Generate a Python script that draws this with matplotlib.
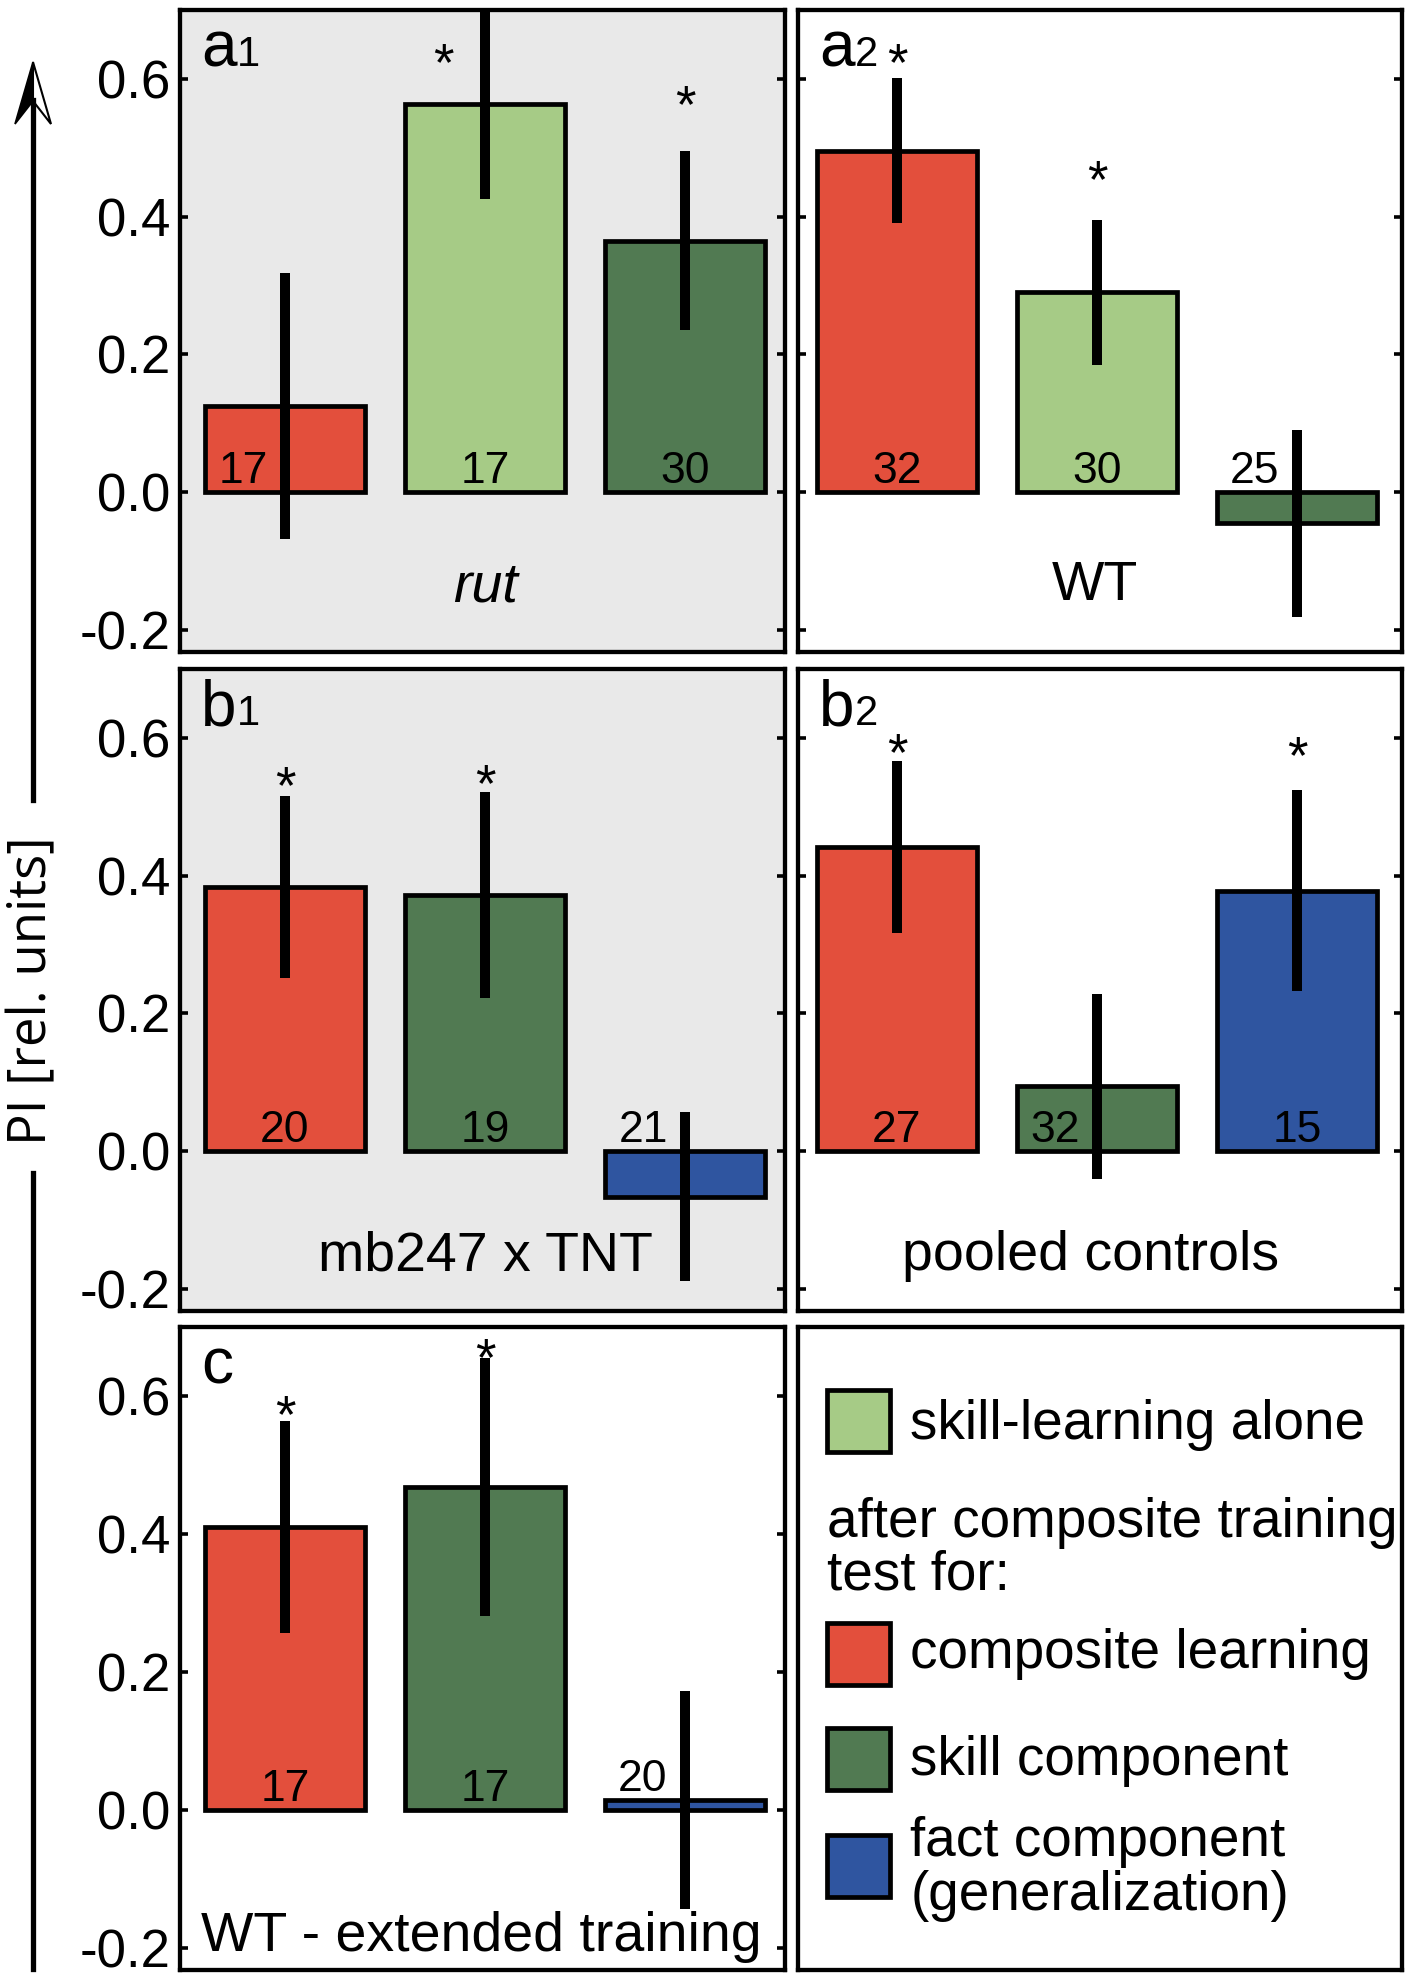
import matplotlib
matplotlib.use('Agg')
import matplotlib.pyplot as plt
from matplotlib.patches import Rectangle, Polygon
from matplotlib.lines import Line2D

plt.rcParams['font.family'] = ['Liberation Sans', 'DejaVu Sans']

# ---------------- data ----------------
series_names = ['skill-learning alone', 'composite learning', 'skill component',
                'fact component']
series_colors = ['#A6CB86', '#E34F3C', '#517A52', '#2F55A0']

panel_ids = ['a1', 'a2', 'b1', 'b2', 'c']
panel_titles = ['rut', 'WT', 'mb247 x TNT', 'pooled controls', 'WT - extended training']

a1_series = ['composite learning', 'skill-learning alone', 'skill component']
a1_values = [0.125, 0.563, 0.365]
a1_errors = [0.193, 0.137, 0.130]
a1_n = [17, 17, 30]
a1_stars = [None, 0.642, 0.582]

a2_series = ['composite learning', 'skill-learning alone', 'skill component']
a2_values = [0.496, 0.290, -0.045]
a2_errors = [0.105, 0.105, 0.136]
a2_n = [32, 30, 25]
a2_stars = [0.642, 0.473, None]

b1_series = ['composite learning', 'skill component', 'fact component']
b1_values = [0.383, 0.372, -0.066]
b1_errors = [0.132, 0.150, 0.123]
b1_n = [20, 19, 21]
b1_stars = [0.550, 0.552, None]

b2_series = ['composite learning', 'skill component', 'fact component']
b2_values = [0.442, 0.094, 0.378]
b2_errors = [0.125, 0.134, 0.146]
b2_n = [27, 32, 15]
b2_stars = [0.597, None, 0.594]

c_series = ['composite learning', 'skill component', 'fact component']
c_values = [0.410, 0.468, 0.015]
c_errors = [0.154, 0.187, 0.158]
c_n = [17, 17, 20]
c_stars = [0.592, 0.675, None]

yticks = [-0.2, 0.0, 0.2, 0.4, 0.6]
ytick_labels = ['-0.2', '0.0', '0.2', '0.4', '0.6']
ylabel = 'PI [rel. units]'

legend_labels = ['skill-learning alone', 'composite learning', 'skill component',
                 'fact component\n(generalization)']
legend_header = 'after composite training\ntest for:'

# ---------------- layout ----------------
W, H = 1405, 1975
fig = plt.figure(figsize=(W / 100, H / 100), dpi=100)

def fx(px):
    return px / W

def fy(py):
    return 1 - py / H

col_x = [(180, 785), (798, 1402)]
row_y = [(10, 652), (669, 1311), (1327, 1970)]
bg = {'a1': '#E9E9E9', 'b1': '#E9E9E9'}
xlims = [(-0.525, 2.5), (-0.495, 2.525)]
title_pos = {'a1': (1.0, -0.159, 'italic'), 'a2': (0.99, -0.156, 'normal'),
             'b1': (1.0, -0.173, 'normal'), 'b2': (0.97, -0.173, 'normal'),
             'c': (0.98, -0.205, 'normal')}

panel_data = {
    'a1': (a1_series, a1_values, a1_errors, a1_n, a1_stars),
    'a2': (a2_series, a2_values, a2_errors, a2_n, a2_stars),
    'b1': (b1_series, b1_values, b1_errors, b1_n, b1_stars),
    'b2': (b2_series, b2_values, b2_errors, b2_n, b2_stars),
    'c': (c_series, c_values, c_errors, c_n, c_stars),
}
positions = {'a1': (0, 0), 'a2': (0, 1), 'b1': (1, 0), 'b2': (1, 1), 'c': (2, 0)}

FRAME_LW = 3.1
num_fs = 32
star_fs = 38
text_fs = 40
leg_fs = 39.5

def make_ax(r, c):
    x0, x1 = col_x[c]
    y0, y1 = row_y[r]
    return fig.add_axes([fx(x0), fy(y1), (x1 - x0) / W, (y1 - y0) / H])

for pid, title in zip(panel_ids, panel_titles):
    r, c = positions[pid]
    ax = make_ax(r, c)
    ax.set_facecolor(bg.get(pid, 'white'))
    series, vals, errs, ns, stars = panel_data[pid]
    xs = list(range(len(vals)))
    cols = [series_colors[series_names.index(s)] for s in series]
    ax.bar(xs, vals, width=0.8, color=cols, edgecolor='black', linewidth=3.4, zorder=2)
    ax.errorbar(xs, vals, yerr=errs, fmt='none', ecolor='black', elinewidth=7.2,
                capsize=0, zorder=3)
    for x, v, e, n, s in zip(xs, vals, errs, ns, stars):
        shift = -0.21 if (v - e) < 0.1 else 0.0
        base = v if 0 < v < 0.05 else 0.0
        ax.text(x + shift, base + 0.013, str(n), ha='center', va='baseline',
                fontsize=num_fs, zorder=4)
        if s is not None:
            sx = x - 0.21 if (v + e) > s else x
            ax.annotate('*', xy=(sx, s), xytext=(0, -0.58 * star_fs),
                        textcoords='offset points', ha='center', va='baseline',
                        fontsize=star_fs, zorder=4)
    tx, ty, style = title_pos[pid]
    ax.text(tx, ty, title, ha='center', va='baseline', fontsize=text_fs, style=style,
            zorder=4)
    # panel label
    letter, idx = pid[0], pid[1:]
    ax.text(0.035, 0.912, letter, transform=ax.transAxes, fontsize=46,
            ha='left', va='baseline', zorder=5)
    if idx:
        ax.annotate(idx, xy=(0.035, 0.912), xycoords='axes fraction',
                    xytext=(0.556 * 46, 0), textcoords='offset points',
                    fontsize=30, ha='left', va='baseline', zorder=5)
    ax.set_xlim(*xlims[c])
    ax.set_ylim(-0.232, 0.70)
    ax.set_xticks([])
    ax.set_yticks(yticks)
    ax.set_yticklabels(ytick_labels)
    ax.tick_params(axis='y', direction='in', left=True, right=True, length=6,
                   width=2.6, labelsize=38, pad=7, labelleft=(c == 0))
    for sp in ax.spines.values():
        sp.set_linewidth(FRAME_LW)

# ---------------- legend panel ----------------
lax = make_ax(2, 1)
lax.set_xlim(0, 1)
lax.set_ylim(0, 1)
lax.set_xticks([])
lax.set_yticks([])
for sp in lax.spines.values():
    sp.set_linewidth(FRAME_LW)

leg_sq_top = [0.902, 0.540, 0.376, 0.210]
leg_text_y = [0.826, 0.470, 0.304, 0.177]
for lab, ytop, ty in zip(legend_labels, leg_sq_top, leg_text_y):
    name = lab.split('\n')[0]
    color = series_colors[series_names.index(name)]
    lax.add_patch(Rectangle((0.048, ytop - 0.096), 0.105, 0.096, facecolor=color,
                            edgecolor='black', linewidth=3.4, transform=lax.transAxes))
    lines = lab.split('\n')
    for k, line in enumerate(lines):
        lax.text(0.186, ty - k * 0.084, line, fontsize=leg_fs, ha='left', va='baseline',
                 transform=lax.transAxes)
for k, line in enumerate(legend_header.split('\n')):
    lax.text(0.048, 0.674 - k * 0.082, line, fontsize=leg_fs, ha='left', va='baseline',
             transform=lax.transAxes)

# ---------------- y label with arrow ----------------
ax_x = 33
fig.add_artist(Line2D([fx(ax_x), fx(ax_x)], [fy(100), fy(800)], color='black',
                      linewidth=3.8, transform=fig.transFigure))
fig.add_artist(Line2D([fx(ax_x), fx(ax_x)], [fy(1173), fy(1969)], color='black',
                      linewidth=3.8, transform=fig.transFigure))
fig.add_artist(Polygon([(fx(ax_x), fy(62)), (fx(15), fy(124)), (fx(ax_x), fy(101))],
                       closed=True, facecolor='black', edgecolor='black', linewidth=1.2,
                       transform=fig.transFigure))
fig.add_artist(Polygon([(fx(ax_x), fy(62)), (fx(51), fy(124)), (fx(ax_x), fy(101))],
                       closed=True, facecolor='white', edgecolor='black', linewidth=1.5,
                       transform=fig.transFigure))
fig.text(fx(ax_x), fy(991), ylabel, rotation=90, ha='center', va='center',
         fontsize=38, family=['Open Sans', 'DejaVu Sans'])

fig.savefig('out.png', dpi=100)
